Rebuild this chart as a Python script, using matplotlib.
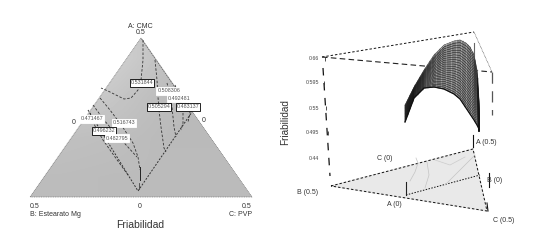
# plot.py
# Ternary contour (left) and 3D surface (right) of friabilidad, drawn in pixel coordinates
import numpy as np
import matplotlib
matplotlib.use('Agg')
import matplotlib.pyplot as plt
from matplotlib.patches import Polygon

plt.rcParams['font.family'] = ['Liberation Sans', 'DejaVu Sans']

# Left panel
tri_x = [141, 30, 252]
tri_y = [38, 197, 197]
kite_x = [141, 88, 138, 192, 141]
kite_y = [38, 110, 191, 112, 38]
shade = [[222, 208, 192, 188],
         [206, 198, 187, 186],
         [192, 190, 186, 186],
         [188, 187, 187, 187]]

contours = [
    ([143, 143, 141, 138, 131, 124, 116, 108, 101], [40, 60, 80, 90, 98, 99, 95, 91, 88]),
    ([155, 157, 158, 159, 161, 164, 166], [60, 80, 97, 110, 127, 148, 152]),
    ([167, 170, 172, 174, 176], [83, 95, 107, 127, 137]),
    ([175, 180, 183, 183, 181], [85, 98, 113, 123, 130]),
    ([185, 189, 190, 188], [95, 105, 113, 122]),
    ([100, 110, 122, 133, 138, 140], [98, 110, 126, 143, 157, 170]),
    ([93, 104, 115, 127, 137], [105, 120, 133, 146, 157]),
    ([90, 95, 103, 115, 128], [113, 126, 140, 157, 175]),
]

box_x = [142, 169, 179, 159, 188, 92, 124, 104, 117]
box_y = [83, 91, 98, 107, 107, 119, 123, 131, 138]
box_labels = ['0.531844', '0.508306', '0.492481', '0.505294', '0.483137',
              '0.471467', '0.516743', '0.496232', '0.482795']
dark_boxes = [0, 3, 4, 7]

# Right panel
base_x = [331, 473, 487]
base_y = [186, 149, 211]
surf_x = [405, 414, 424, 434, 444, 454, 460, 466, 470, 474, 477, 479, 479]
surf_top = [105, 87, 70, 55, 45, 41, 40, 43, 47, 55, 70, 100, 131]
surf_bottom = [122, 98, 88, 87, 89, 94, 99, 108, 114, 120, 125, 129, 131]
z_ticks = ['0.44', '0.495', '0.55', '0.595', '0.66']
z_tick_y = [158, 133, 108, 83, 59]

fig = plt.figure(figsize=(5.34, 2.4), dpi=100)
ax = fig.add_axes([0, 0, 1, 1])
ax.set_xlim(0, 534)
ax.set_ylim(240, 0)
ax.axis('off')

# triangle with soft gray shading
img = ax.imshow(np.array(shade), cmap='gray', vmin=0, vmax=255, extent=[30, 252, 197, 38],
                interpolation='bilinear', aspect='auto', zorder=1)
tri = Polygon(list(zip(tri_x, tri_y)), closed=True, transform=ax.transData, fc='none', ec='none')
ax.add_patch(tri)
img.set_clip_path(tri)
ax.set_xlim(0, 534)
ax.set_ylim(240, 0)
ax.plot(tri_x + tri_x[:1], tri_y + tri_y[:1], color='#777777', lw=0.5, ls=(0, (1.5, 1)), zorder=2)
ax.plot(kite_x[1:4], kite_y[1:4], color='#333333', lw=0.7, ls=(0, (2, 1.5)), zorder=3)
ax.plot(kite_x[3:], kite_y[3:], color='#666666', lw=0.5, ls=(0, (2, 1.5)), zorder=3)
ax.plot([140, 140], [167, 180], color='#222222', lw=0.7, zorder=3)
ax.plot([139, 139], [183, 189], color='#444444', lw=0.6, zorder=3)

for cx, cy in contours:
    ax.plot(cx, cy, color='#333333', lw=0.6, ls=(0, (3, 2)), zorder=3)

for i, (bx, by, lab) in enumerate(zip(box_x, box_y, box_labels)):
    edge = 'black' if i in dark_boxes else 'white'
    ax.text(bx, by, lab, fontsize=3.9, color='#555555', ha='center', va='center', zorder=5,
            bbox=dict(boxstyle='square,pad=0.2', fc='white', ec=edge, lw=0.6))

ax.text(140, 27, 'A: CMC', fontsize=5, ha='center', va='center', color='#333333')
ax.text(141, 33, '0.5', fontsize=5, ha='center', va='center', color='#333333')
ax.text(74, 122, '0', fontsize=5, ha='center', va='center', color='#333333')
ax.text(204, 121, '0', fontsize=5, ha='center', va='center', color='#333333')
ax.text(30, 206, '0.5', fontsize=5, ha='left', va='center', color='#333333')
ax.text(140, 206, '0', fontsize=5, ha='center', va='center', color='#333333')
ax.text(252, 206, '0.5', fontsize=5, ha='right', va='center', color='#333333')
ax.text(30, 214, 'B: Estearato Mg', fontsize=5, ha='left', va='center', color='#333333')
ax.text(252, 214, 'C: PVP', fontsize=5, ha='right', va='center', color='#333333')
ax.text(140, 225, 'Friabilidad', fontsize=7.5, ha='center', va='center', color='#333333')

# base of the 3D box
ax.fill(base_x, base_y, color='#e9e9e9', zorder=1)
ax.plot(base_x + base_x[:1], base_y + base_y[:1], color='#111111', lw=0.7, ls=(0, (2.5, 2)), zorder=2)
ax.plot([406, 480], [195, 175], color='#111111', lw=0.7, ls=(0, (1.5, 1.5)), zorder=2)
ax.plot([406, 406], [195, 182], color='#222222', lw=0.8, zorder=2)
ax.plot([410, 415, 418, 416], [181, 172, 163, 158], color='#c4c4c4', lw=0.5, zorder=2)
ax.plot([425, 429, 427], [188, 175, 162], color='#c4c4c4', lw=0.5, zorder=2)
ax.plot([435, 450, 465], [160, 165, 157], color='#cccccc', lw=0.5, zorder=2)
ax.plot([445, 460, 475], [185, 170, 155], color='#c4c4c4', lw=0.5, zorder=2)

# frame of the 3D box
ax.plot([322, 474], [57, 32], color='#111111', lw=0.7, ls=(0, (2.5, 2)))
ax.plot([322, 492], [57, 72], color='#222222', lw=0.8, ls=(0, (5, 3)))
ax.plot([474, 492], [32, 72], color='#444444', lw=0.5, ls=(0, (1, 1)))
ax.plot([323, 330], [68, 176], color='#111111', lw=0.9, ls=(0, (6, 6)))
ax.plot([492, 492], [72, 115], color='#555555', lw=0.9, ls=(0, (9, 6)))
ax.plot([474, 474], [43, 70], color='#666666', lw=0.8)
ax.plot([473, 473], [135, 147], color='#111111', lw=0.8)
ax.plot([489, 489], [173, 187], color='#111111', lw=0.8)
ax.plot([487, 488], [203, 211], color='#111111', lw=0.8)
ax.plot([324, 326, 328, 325], [83, 108, 133, 59], ls='none', marker='|', ms=3, mew=0.6, color='#333333')

# surface mesh, the wire lines are only drawn between the two read outlines
sx = np.array(surf_x, dtype=float)
top = np.array(surf_top, dtype=float)
bottom = np.array(surf_bottom, dtype=float)
ax.fill_between(sx, top, bottom, color='#a6a6a6', lw=0, zorder=3)
for f in np.linspace(0, 1, 24):
    ax.plot(sx, top + (bottom - top) * f, color='#161616', lw=0.35, zorder=4)
wire_x = np.arange(405, 480, 2.5)
wire_top = np.interp(wire_x, sx[:-1], top[:-1])
wire_bottom = np.interp(wire_x, sx[:-1], bottom[:-1])
for xv, t, b in zip(wire_x, wire_top, wire_bottom):
    ax.plot([xv, xv], [t, b], color='#161616', lw=0.35, zorder=4)
ax.plot(sx, bottom, color='#111111', lw=0.9, zorder=5)

for lab, ty in zip(z_ticks, z_tick_y):
    ax.text(319, ty, lab, fontsize=3.8, ha='right', va='center', color='#444444')

ax.text(285, 122, 'Friabilidad', fontsize=7.2, rotation=90, ha='center', va='center', color='#333333')
ax.text(476, 142, 'A (0.5)', fontsize=5, ha='left', va='center', color='#333333')
ax.text(385, 159, 'C (0)', fontsize=5, ha='center', va='center', color='#333333')
ax.text(495, 181, 'B (0)', fontsize=5, ha='center', va='center', color='#333333')
ax.text(308, 192, 'B (0.5)', fontsize=5, ha='center', va='center', color='#333333')
ax.text(394, 205, 'A (0)', fontsize=5, ha='center', va='center', color='#333333')
ax.text(504, 221, 'C (0.5)', fontsize=5, ha='center', va='center', color='#333333')

fig.savefig('out.png', dpi=100)
plt.close()
